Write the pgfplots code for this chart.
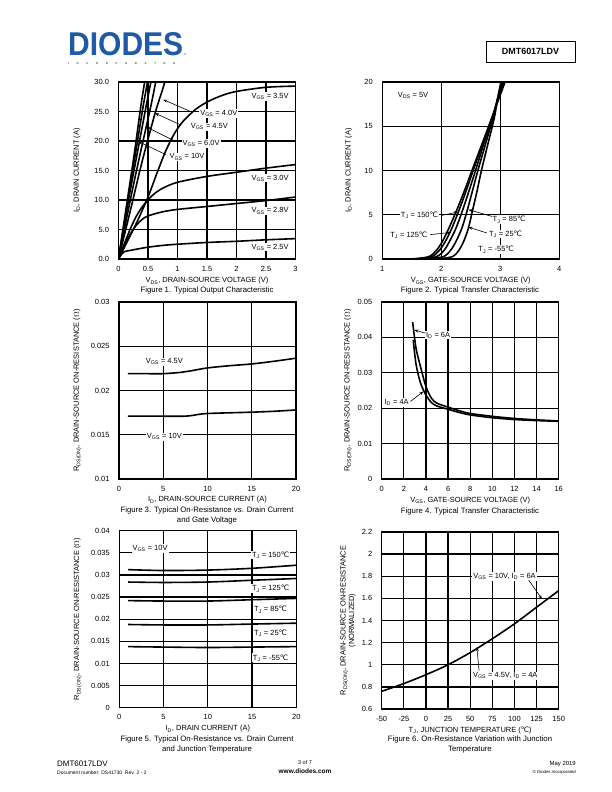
\documentclass[border=0pt]{standalone}
\usepackage{pgfplots}
\pgfplotsset{compat=1.18}
\usepackage{graphicx}
\usepackage{fontspec}
\setmainfont{Liberation Sans}
\newfontfamily\dejavu{DejaVu Sans}
\usetikzlibrary{arrows.meta}
\newcommand{\degC}{{\dejavu\char"2103}}
\newcommand{\sub}[1]{\textsubscript{#1}}
\newcommand{\tfont}{\fontsize{7.5}{8.6}\selectfont}
\newcommand{\cfont}{\fontsize{7.8}{9}\selectfont}
\definecolor{dblue}{RGB}{30,90,165}
\pgfplotsset{
 ds/.style={scale only axis, width=177bp, height=177bp,
  axis line style={line width=1.3bp}, grid=major,
  major grid style={black, line width=1.3bp},
  major tick length=0pt,
  scaled x ticks=false, scaled y ticks=false,
  tick label style={font=\tfont},
  label style={font=\tfont},
  xticklabel style={yshift=-3.5bp},
  yticklabel style={xshift=-6bp},
  xlabel style={at={(axis description cs:0.5,-0.124)}, anchor=center},
  ylabel style={at={(axis description cs:-0.235,0.5)}, anchor=center},
  clip=true},
 cv/.style={black, line width=1.6bp, smooth, no marks},
}
\tikzset{lab/.style={font=\tfont, fill=white, inner sep=1pt},
 arr/.style={-{Stealth[length=4bp,width=3bp]}, line width=0.6bp}}
\begin{document}
\begin{tikzpicture}[x=1bp,y=1bp]
\fill[white] (0,0) rectangle (612,792);
\path[use as bounding box] (0,0) rectangle (612,792);
% header
\node[anchor=south west, inner sep=0, text=dblue] at (68,736) {\resizebox{115bp}{23bp}{\bfseries DIODES}};
\node[anchor=south west, inner sep=0, text=dblue] at (184,736) {\fontsize{3}{3}\selectfont\textregistered};
\node[anchor=base west, inner sep=0, text=black!70] at (68,727.5) {\makebox[107bp][s]{\bfseries\fontsize{2.8}{3}\selectfont I\hfill N\hfill C\hfill O\hfill R\hfill P\hfill O\hfill R\hfill A\hfill T\hfill E\hfill D}};
\node[draw, line width=0.8bp, minimum width=89bp, minimum height=21bp, inner sep=0, font=\bfseries\fontsize{9}{10}\selectfont] at (530.5,740.5) {DMT6017LDV};
% footer
\node[anchor=base west, inner sep=0, font=\fontsize{8}{9}\selectfont] at (57,25) {DMT6017LDV};
\node[anchor=base west, inner sep=0, font=\fontsize{5}{6}\selectfont] at (57,17) {Document number: DS41730\ \ Rev. 2 - 2};
\node[anchor=base, inner sep=0, font=\fontsize{5.5}{6}\selectfont] at (305,27) {3 of 7};
\node[anchor=base, inner sep=0, font=\bfseries\fontsize{6.5}{7}\selectfont] at (305,18) {www.diodes.com};
\node[anchor=base east, inner sep=0, font=\fontsize{6}{7}\selectfont] at (576,26) {May 2019};
\node[anchor=base east, inner sep=0, font=\fontsize{4.3}{5}\selectfont] at (576,18) {\textcopyright\ Diodes Incorporated};

% ---------- Figure 1
\begin{axis}[ds, at={(118.5bp,533bp)}, anchor=south west,
 xmin=0, xmax=3, ymin=0, ymax=30,
 xtick={0,0.5,1,1.5,2,2.5,3}, xticklabels={0,0.5,1,1.5,2,2.5,3},
 ytick={0,5,10,15,20,25,30}, yticklabels={0.0,5.0,10.0,15.0,20.0,25.0,30.0},
 xlabel={V\sub{DS}, DRAIN-SOURCE VOLTAGE (V)},
 ylabel={I\sub{D}, DRAIN CURRENT (A)}]
\node[lab] at (axis cs:2.57,27.5) {V\sub{GS} = 3.5V};
\node[lab] at (axis cs:1.70,24.7) {V\sub{GS} = 4.0V};
\node[lab] at (axis cs:1.54,22.4) {V\sub{GS} = 4.5V};
\node[lab] at (axis cs:1.40,19.6) {V\sub{GS} = 6.0V};
\node[lab] at (axis cs:1.16,17.3) {V\sub{GS} = 10V};
\node[lab] at (axis cs:2.57,13.7) {V\sub{GS} = 3.0V};
\node[lab] at (axis cs:2.57,8.15) {V\sub{GS} = 2.8V};
\node[lab] at (axis cs:2.57,2.0) {V\sub{GS} = 2.5V};
\addplot[cv] coordinates {(0,0) (0.05,0.8) (0.1,1.25) (0.2,1.45) (0.3,1.65) (0.5,2.0) (0.75,2.3) (1,2.5) (1.5,2.8) (2,3.0) (2.5,3.25) (3,3.45)};
\addplot[cv] coordinates {(0,0) (0.1,2.3) (0.2,4.2) (0.3,5.7) (0.4,6.7) (0.5,7.3) (0.75,8.0) (1,8.4) (1.5,8.9) (2,9.4) (2.5,9.9) (3,10.5)};
\addplot[cv] coordinates {(0,0) (0.1,2.6) (0.2,5.1) (0.3,7.2) (0.4,8.8) (0.5,10) (0.6,11) (0.75,12.0) (1,13.0) (1.5,14.0) (2,14.7) (2.5,15.4) (3,16.0)};
\addplot[cv] coordinates {(0,0) (0.3,6) (0.5,10.5) (0.65,14.5) (0.8,18.3) (0.95,21.3) (1.1,23.4) (1.3,25.3) (1.5,26.6) (1.75,27.7) (2.0,28.4) (2.5,29.1) (3,29.3)};
\addplot[cv] coordinates {(0,0) (0.22,9) (0.4,16.5) (0.62,24.7) (0.74,28.5) (0.8,30.5)};
\addplot[cv] coordinates {(0,0) (0.2,10) (0.36,17.5) (0.55,26) (0.64,30.5)};
\addplot[cv] coordinates {(0,0) (0.17,10) (0.31,17.5) (0.47,26) (0.56,30.5)};
\addplot[cv] coordinates {(0,0) (0.16,10) (0.29,18) (0.42,26) (0.51,31)};
\addplot[cv] coordinates {(0,0) (0.15,10) (0.27,18) (0.38,26) (0.46,31)};
\draw[arr] (axis cs:1.22,25.0) -- (axis cs:0.76,27.0);
\draw[arr] (axis cs:1.06,22.7) -- (axis cs:0.62,24.7);
\draw[arr] (axis cs:0.97,19.9) -- (axis cs:0.47,22.4);
\draw[arr] (axis cs:0.80,17.7) -- (axis cs:0.34,19.9);
\end{axis}
\node[font=\cfont] at (207,501.5) {Figure 1. Typical Output Characteristic};

% ---------- Figure 2
\begin{axis}[ds, at={(382.3bp,533bp)}, anchor=south west,
 xmin=1, xmax=4, ymin=0, ymax=20,
 xtick={1,2,3,4}, xticklabels={1,2,3,4},
 ytick={0,5,10,15,20}, yticklabels={0,5,10,15,20},
 ylabel style={at={(axis description cs:-0.19,0.5)}},
 xlabel={V\sub{GS}, GATE-SOURCE VOLTAGE (V)},
 ylabel={I\sub{D}, DRAIN CURRENT (A)}]
\node[lab] at (axis cs:1.52,18.45) {V\sub{DS} = 5V};
\node[lab] at (axis cs:1.63,4.93) {T\sub{J} = 150\degC};
\node[lab] at (axis cs:1.45,2.67) {T\sub{J} = 125\degC};
\node[lab] at (axis cs:3.15,4.44) {T\sub{J} = 85\degC};
\node[lab] at (axis cs:3.09,2.82) {T\sub{J} = 25\degC};
\node[lab] at (axis cs:2.93,1.05) {T\sub{J} = -55\degC};
\addplot[cv] coordinates {(1,0) (1.4,0.005) (1.6,0.06) (1.8,0.3) (1.92,1) (2.02,2) (2.13,3.5) (2.26,5.5) (2.38,7.5) (2.52,10) (2.69,13) (2.86,16) (2.97,18) (3.08,20)};
\addplot[cv] coordinates {(1,0) (1.45,0.005) (1.65,0.06) (1.85,0.3) (1.97,1) (2.07,2) (2.18,3.5) (2.30,5.5) (2.41,7.5) (2.54,10) (2.70,13) (2.86,16) (2.96,18) (3.06,20)};
\addplot[cv] coordinates {(1,0) (1.5,0.005) (1.73,0.06) (1.93,0.3) (2.05,1) (2.14,2) (2.25,3.5) (2.36,5.5) (2.46,7.5) (2.58,10) (2.72,13) (2.87,16) (2.95,18) (3.05,20)};
\addplot[cv] coordinates {(1,0) (1.6,0.005) (1.85,0.06) (2.05,0.3) (2.16,1) (2.25,2) (2.35,3.5) (2.44,5.5) (2.52,7.5) (2.62,10) (2.75,13) (2.88,16) (2.95,18) (3.03,20)};
\addplot[cv] coordinates {(1,0) (1.7,0.005) (2.0,0.06) (2.2,0.3) (2.30,1) (2.38,2) (2.46,3.5) (2.53,5.5) (2.60,7.5) (2.68,10) (2.79,13) (2.90,16) (2.95,18) (3.01,20)};
\draw[arr] (axis cs:2.01,4.93) -- (axis cs:2.28,5.3);
\draw[arr] (axis cs:1.81,2.75) -- (axis cs:2.16,3.0);
\draw[arr] (axis cs:2.86,4.81) -- (axis cs:2.46,5.57);
\draw[arr] (axis cs:2.77,2.94) -- (axis cs:2.46,3.6);
\end{axis}
\node[font=\cfont] at (470,502) {Figure 2. Typical Transfer Characteristic};

% ---------- Figure 3
\begin{axis}[ds, at={(119bp,313bp)}, anchor=south west,
 xmin=0, xmax=20, ymin=0.01, ymax=0.03,
 xtick={0,5,10,15,20}, xticklabels={0,5,10,15,20},
 ytick={0.01,0.015,0.02,0.025,0.03}, yticklabels={0.01,0.015,0.02,0.025,0.03},
 xlabel style={at={(axis description cs:0.5,-0.118)}},
 xlabel={I\sub{D}, DRAIN-SOURCE CURRENT (A)},
 ylabel={R\sub{DS(ON)}, DRAIN-SOURCE ON-RESISTANCE ($\Omega$)}]
\node[lab] at (axis cs:5.13,0.02325) {V\sub{GS} = 4.5V};
\node[lab] at (axis cs:5.13,0.01477) {V\sub{GS} = 10V};
\addplot[cv] coordinates {(1,0.0219) (3,0.0219) (5,0.0219) (7,0.02205) (8,0.0222) (10,0.02255) (12.5,0.0228) (15,0.0230) (17.5,0.0233) (20,0.02365)};
\addplot[cv] coordinates {(1,0.0171) (4,0.0171) (7.5,0.0171) (9,0.0173) (10,0.0174) (12.5,0.01748) (15,0.01755) (17.5,0.01765) (20,0.0178)};
\end{axis}
\node[font=\cfont] at (207,282) {Figure 3. Typical On-Resistance vs. Drain Current};
\node[font=\cfont] at (207,272) {and Gate Voltage};

% ---------- Figure 4
\begin{axis}[ds, at={(381.7bp,313bp)}, anchor=south west,
 xmin=0, xmax=16, ymin=0, ymax=0.05,
 xtick={0,2,4,6,8,10,12,14,16}, xticklabels={0,2,4,6,8,10,12,14,16},
 ytick={0,0.01,0.02,0.03,0.04,0.05}, yticklabels={0,0.01,0.02,0.03,0.04,0.05},
 ylabel style={at={(axis description cs:-0.19,0.5)}},
 xlabel style={at={(axis description cs:0.5,-0.12)}},
 xlabel={V\sub{GS}, GATE-SOURCE VOLTAGE (V)},
 ylabel={R\sub{DS(ON)}, DRAIN-SOURCE ON-RESISTANCE ($\Omega$)}]
\node[lab] at (axis cs:5.1,0.0406) {I\sub{D} = 6A};
\node[lab] at (axis cs:1.35,0.0216) {I\sub{D} = 4A};
\addplot[cv] coordinates {(2.8,0.0443) (3.1,0.037) (3.5,0.0318) (4,0.0261) (4.5,0.0228) (5,0.0214) (6,0.0203) (7,0.0193) (8,0.0185) (10,0.0177) (12,0.0171) (14,0.0167) (16,0.0164)};
\addplot[cv] coordinates {(2.85,0.0393) (3.1,0.0325) (3.5,0.0272) (4,0.0237) (4.5,0.0216) (5,0.0206) (6,0.0197) (7,0.0188) (8,0.0181) (10,0.0173) (12,0.0168) (14,0.0165) (16,0.0163)};
\draw[arr] (axis cs:3.95,0.0412) -- (axis cs:2.95,0.0421);
\draw[arr] (axis cs:2.6,0.0219) -- (axis cs:3.76,0.0247);
\end{axis}
\node[font=\cfont] at (470,281) {Figure 4. Typical Transfer Characteristic};

% ---------- Figure 5
\begin{axis}[ds, at={(119.3bp,84.3bp)}, anchor=south west,
 xmin=0, xmax=20, ymin=0, ymax=0.04,
 xtick={0,5,10,15,20}, xticklabels={0,5,10,15,20},
 ytick={0,0.005,0.01,0.015,0.02,0.025,0.03,0.035,0.04},
 yticklabels={0,0.005,0.01,0.015,0.02,0.025,0.03,0.035,0.04},
 xlabel style={at={(axis description cs:0.5,-0.12)}},
 xlabel={I\sub{D}, DRAIN CURRENT (A)},
 ylabel={R\sub{DS(ON)}, DRAIN-SOURCE ON-RESISTANCE ($\Omega$)}]
\node[lab] at (axis cs:3.48,0.0360) {V\sub{GS} = 10V};
\node[lab] at (axis cs:17.1,0.0345) {T\sub{J} = 150\degC};
\node[lab] at (axis cs:17.1,0.0269) {T\sub{J} = 125\degC};
\node[lab] at (axis cs:17.1,0.02215) {T\sub{J} = 85\degC};
\node[lab] at (axis cs:17.1,0.01688) {T\sub{J} = 25\degC};
\node[lab] at (axis cs:17.1,0.01126) {T\sub{J} = -55\degC};
\addplot[cv] coordinates {(1,0.0312) (5,0.0310) (10,0.0311) (15,0.0315) (20,0.0322)};
\addplot[cv] coordinates {(1,0.0284) (5,0.0283) (10,0.0284) (15,0.0288) (20,0.0292)};
\addplot[cv] coordinates {(1,0.0242) (5,0.0241) (10,0.0241) (15,0.0244) (20,0.0247)};
\addplot[cv] coordinates {(1,0.0188) (5,0.0187) (10,0.0187) (15,0.0189) (20,0.0191)};
\addplot[cv] coordinates {(1,0.0138) (5,0.0137) (10,0.0136) (15,0.0137) (20,0.0138)};
\end{axis}
\node[font=\cfont] at (207,53) {Figure 5. Typical On-Resistance vs. Drain Current};
\node[font=\cfont] at (207,43) {and Junction Temperature};

% ---------- Figure 6
\begin{axis}[ds, at={(381.7bp,83bp)}, anchor=south west,
 xmin=-50, xmax=150, ymin=0.6, ymax=2.2,
 xtick={-50,-25,0,25,50,75,100,125,150}, xticklabels={-50,-25,0,25,50,75,100,125,150},
 ytick={0.6,0.8,1,1.2,1.4,1.6,1.8,2,2.2}, yticklabels={0.6,0.8,1,1.2,1.4,1.6,1.8,2,2.2},
 ylabel style={at={(axis description cs:-0.19,0.5)}, align=center},
 xlabel style={at={(axis description cs:0.5,-0.122)}},
 xlabel={T\sub{J}, JUNCTION TEMPERATURE (\degC)},
 ylabel={R\sub{DS(ON)}, DRAIN-SOURCE ON-RESISTANCE\\(NORMALIZED)}]
\node[lab] at (axis cs:88.8,1.80) {V\sub{GS} = 10V, I\sub{D} = 6A};
\node[lab] at (axis cs:89.6,0.90) {V\sub{GS} = 4.5V, I\sub{D} = 4A};
\addplot[cv] coordinates {(-50,0.76) (-25,0.83) (0,0.91) (25,1.0) (50,1.11) (75,1.235) (100,1.37) (125,1.52) (150,1.67)};
\draw[arr] (axis cs:116,1.766) -- (axis cs:131,1.595);
\draw[arr] (axis cs:60,0.95) -- (axis cs:57.5,1.16);
\end{axis}
\node[font=\cfont] at (470,53) {Figure 6. On-Resistance Variation with Junction};
\node[font=\cfont] at (470,42) {Temperature};
\end{tikzpicture}
\end{document}
